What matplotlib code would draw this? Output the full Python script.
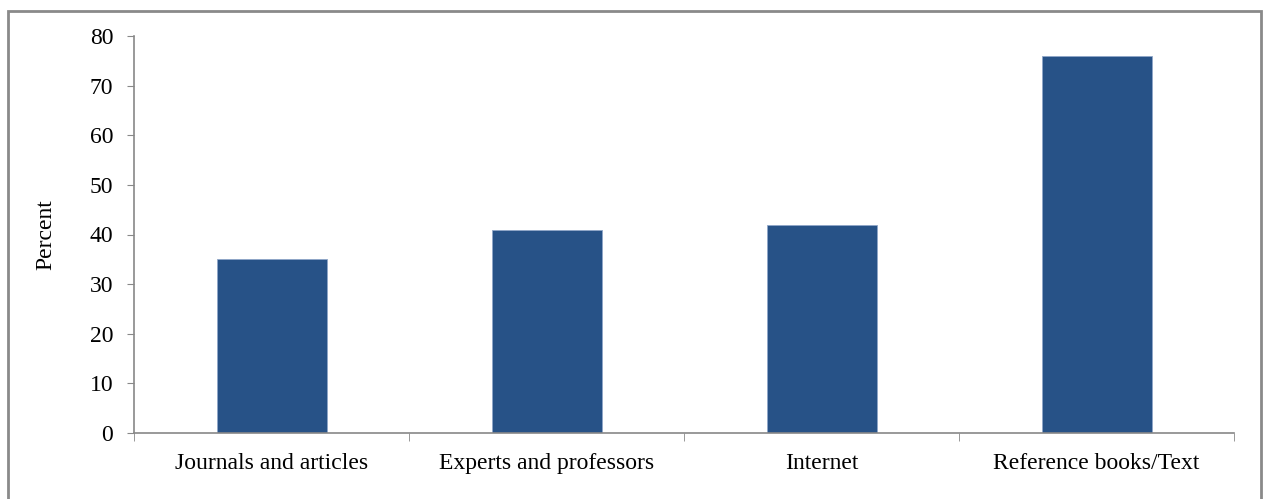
import numpy as np
import matplotlib.pyplot as plt
from matplotlib.patches import Rectangle

categories = ['Journals and articles', 'Experts and professors', 'Internet', 'Reference books/Text']
percent = [35, 41, 42, 76]

plt.rcParams['font.family'] = ['Liberation Serif', 'DejaVu Serif']

fig = plt.figure(figsize=(12.63, 4.99), dpi=100)
ax = fig.add_axes([134 / 1263, 1 - 433 / 499, 1100 / 1263, 397 / 499])

x = np.arange(len(categories))
ax.bar(x, percent, width=0.4, color='#275287', edgecolor='#8fa6c8', linewidth=0.6, zorder=2)

ax.set_xlim(-0.5, len(categories) - 0.5)
ax.set_ylim(0, 80)
ax.set_yticks(np.arange(0, 81, 10))
ax.tick_params(axis='y', labelsize=17, length=5, color='#888888', pad=10)

# category labels centred, tick marks on the boundaries
ax.set_xticks(x)
ax.set_xticklabels(categories, fontsize=17)
ax.tick_params(axis='x', which='major', length=0, pad=26)
for lab in ax.get_xticklabels():
    lab.set_verticalalignment('baseline')
ax.set_xticks(np.arange(-0.5, len(categories)), minor=True)
ax.tick_params(axis='x', which='minor', length=6, color='#888888')

for s in ['top', 'right']:
    ax.spines[s].set_visible(False)
for s in ['left', 'bottom']:
    ax.spines[s].set_color('#888888')
    ax.spines[s].set_linewidth(1.2)

ax.set_ylabel('Percent', fontsize=17, labelpad=24)

# outer frame around the chart
fig.patches.append(Rectangle((8 / 1263, -0.05), 1253 / 1263, 1 - 11 / 499 + 0.05,
                             transform=fig.transFigure, fill=False,
                             edgecolor='#8a8a8a', linewidth=2))

plt.savefig('out.png', dpi=100)
